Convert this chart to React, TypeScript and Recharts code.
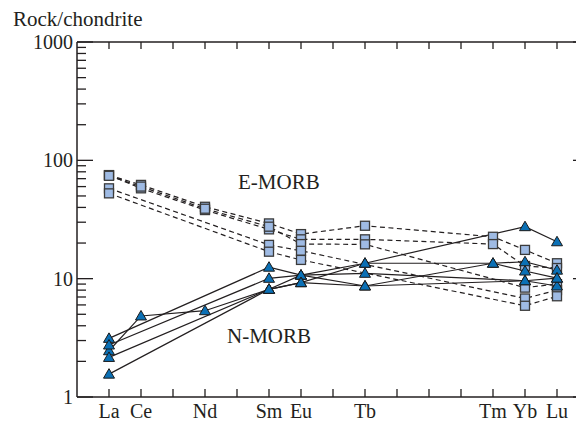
import React from 'react';
import { LineChart, Line, XAxis, YAxis } from 'recharts';

// ---- data ----
const elements = ['La', 'Ce', 'Nd', 'Sm', 'Eu', 'Tb', 'Tm', 'Yb', 'Lu'];
const atomicNumbers = [57, 58, 60, 62, 63, 65, 69, 70, 71];
const xTicks = [57, 58, 59, 60, 61, 62, 63, 64, 65, 66, 67, 68, 69, 70, 71];
const yTicks = [1, 2, 3, 4, 5, 6, 7, 8, 9, 10, 20, 30, 40, 50, 60, 70, 80, 90, 100, 200, 300, 400, 500, 600, 700, 800, 900, 1000];
const yMajorTicks = [1, 10, 100, 1000];

// E-MORB samples (squares, dashed)
const eMorb1 = [75, 62, 40.5, 29.3, 23.8, 28, 22.6, 17.5, 13.5];
const eMorb2 = [75, 58, 38, 26.1, 21.5, 21.5, 19.6, 12.8, 12.3];
const eMorb3 = [74, 60, 39, 27.5, 19.6, 19.5, null, 8.4, 9.0];
const eMorb4 = [58, null, null, 19.3, 17.2, null, null, 6.8, 8.0];
const eMorb5 = [52.6, null, null, 16.9, 14.4, null, null, 5.9, 7.1];

// N-MORB samples (triangles, solid)
const nMorb1 = [3.13, null, null, 12.5, 10.7, 8.67, 13.5, 13.9, 11.8];
const nMorb2 = [2.46, 4.84, 5.36, 8.13, 10.7, 13.5, null, 27.5, 20.5];
const nMorb3 = [2.75, null, null, 10.07, 10.7, 11.1, null, 9.6, 8.67];
const nMorb4 = [2.16, null, null, 8.13, 9.25, 13.5, 13.5, 11.6, 10.1];
const nMorb5 = [1.56, null, null, 8.13, 9.25, 8.67, null, 9.6, 10.1];

const eSeries = [eMorb1, eMorb2, eMorb3, eMorb4, eMorb5];
const nSeries = [nMorb1, nMorb2, nMorb3, nMorb4, nMorb5];

const toPoints = (vals: (number | null)[]) =>
  vals
    .map((v, i) => (v == null ? null : { x: atomicNumbers[i], y: v }))
    .filter((p) => p !== null) as { x: number; y: number }[];

const labelFor = (z: number) => {
  const i = atomicNumbers.indexOf(z);
  return i >= 0 ? elements[i] : '';
};

const INK = '#231f20';
const FONT = 'Liberation Serif, Times New Roman, serif';

const SquareDot = (p: any) => {
  const { cx, cy, index } = p;
  if (cx == null || cy == null) return <g key={index} />;
  return (
    <rect key={index} x={cx - 4.5} y={cy - 4.5} width={9} height={9}
      fill="#9fbbe4" stroke="#3b3b3b" strokeWidth={1.3} />
  );
};

const TriDot = (p: any) => {
  const { cx, cy, index } = p;
  if (cx == null || cy == null) return <g key={index} />;
  const pts = `${cx},${cy - 5.5} ${cx + 5.5},${cy + 4} ${cx - 5.5},${cy + 4}`;
  return <polygon key={index} points={pts} fill="#0b70b5" stroke="#1a1a1a" strokeWidth={1} />;
};

const BottomTick = (p: any) => {
  const { x, y, payload } = p;
  const label = labelFor(payload.value);
  return (
    <g>
      <line x1={x} y1={y} x2={x} y2={y - 8} stroke={INK} strokeWidth={1.3} />
      {label && (
        <text x={x} y={y + 21} textAnchor="middle" style={{ fontFamily: FONT, fontSize: 20 }} fill={INK}>
          {label}
        </text>
      )}
    </g>
  );
};

const TopTick = (p: any) => {
  const { x, y } = p;
  return <line x1={x} y1={y} x2={x} y2={y + 7} stroke={INK} strokeWidth={1.3} />;
};

const LeftTick = (p: any) => {
  const { x, y, payload } = p;
  const major = yMajorTicks.includes(payload.value);
  return (
    <g>
      <line x1={x} y1={y} x2={x + (major ? 16 : 9)} y2={y} stroke={INK} strokeWidth={1.3} />
      {major && (
        <text x={x - 4} y={y + 7} textAnchor="end" style={{ fontFamily: FONT, fontSize: 20 }} fill={INK}>
          {payload.value}
        </text>
      )}
    </g>
  );
};

const RightTick = (p: any) => {
  const { x, y, payload } = p;
  const major = yMajorTicks.includes(payload.value);
  return <line x1={x} y1={y} x2={x - (major ? 16 : 9)} y2={y} stroke={INK} strokeWidth={1.3} />;
};

export default function App() {
  const axisLine = { stroke: INK, strokeWidth: 1.5 };
  return (
    <div style={{ position: 'fixed', left: 0, top: 0, width: 576, height: 422, overflow: 'hidden', background: '#fff' }}>
      <LineChart width={600} height={422} margin={{ top: 0, right: 0, bottom: 0, left: 0 }}>
        <XAxis xAxisId="b" dataKey="x" type="number" domain={[56, 72]} ticks={xTicks} interval={0}
          orientation="bottom" height={25} tickSize={0} tickMargin={0} tickLine={false}
          axisLine={axisLine} tick={(p: any) => <BottomTick {...p} />} allowDataOverflow />
        <XAxis xAxisId="t" dataKey="x" type="number" domain={[56, 72]} ticks={xTicks} interval={0}
          orientation="top" height={42} tickSize={0} tickMargin={0} tickLine={false}
          axisLine={axisLine} tick={(p: any) => <TopTick {...p} />} allowDataOverflow />
        <YAxis yAxisId="l" type="number" scale="log" domain={[1, 1000]} ticks={yTicks} interval={0}
          orientation="left" width={77} tickSize={0} tickMargin={0} tickLine={false}
          axisLine={axisLine} tick={(p: any) => <LeftTick {...p} />} allowDataOverflow />
        <YAxis yAxisId="r" type="number" scale="log" domain={[1, 1000]} ticks={yTicks} interval={0}
          orientation="right" width={11} tickSize={0} tickMargin={0} tickLine={false}
          axisLine={axisLine} tick={(p: any) => <RightTick {...p} />} allowDataOverflow />
        {eSeries.map((s, i) => (
          <Line key={'e' + i} data={toPoints(s)} dataKey="y" xAxisId="b" yAxisId="l" type="linear"
            stroke={INK} strokeWidth={1.2} strokeDasharray="5 3.5" dot={SquareDot} activeDot={false}
            isAnimationActive={false} legendType="none" />
        ))}
        {nSeries.map((s, i) => (
          <Line key={'n' + i} data={toPoints(s)} dataKey="y" xAxisId="b" yAxisId="l" type="linear"
            stroke={INK} strokeWidth={1.2} dot={TriDot} activeDot={false}
            isAnimationActive={false} legendType="none" />
        ))}
      </LineChart>
      <svg width={576} height={422} style={{ position: 'absolute', left: 0, top: 0, pointerEvents: 'none' }}>
        <text x={13} y={26} style={{ fontFamily: FONT, fontSize: 21 }} fill={INK}>Rock/chondrite</text>
        <text x={238} y={189} style={{ fontFamily: FONT, fontSize: 21 }} fill={INK}>E-MORB</text>
        <text x={227} y={343} style={{ fontFamily: FONT, fontSize: 21 }} fill={INK}>N-MORB</text>
      </svg>
    </div>
  );
}
